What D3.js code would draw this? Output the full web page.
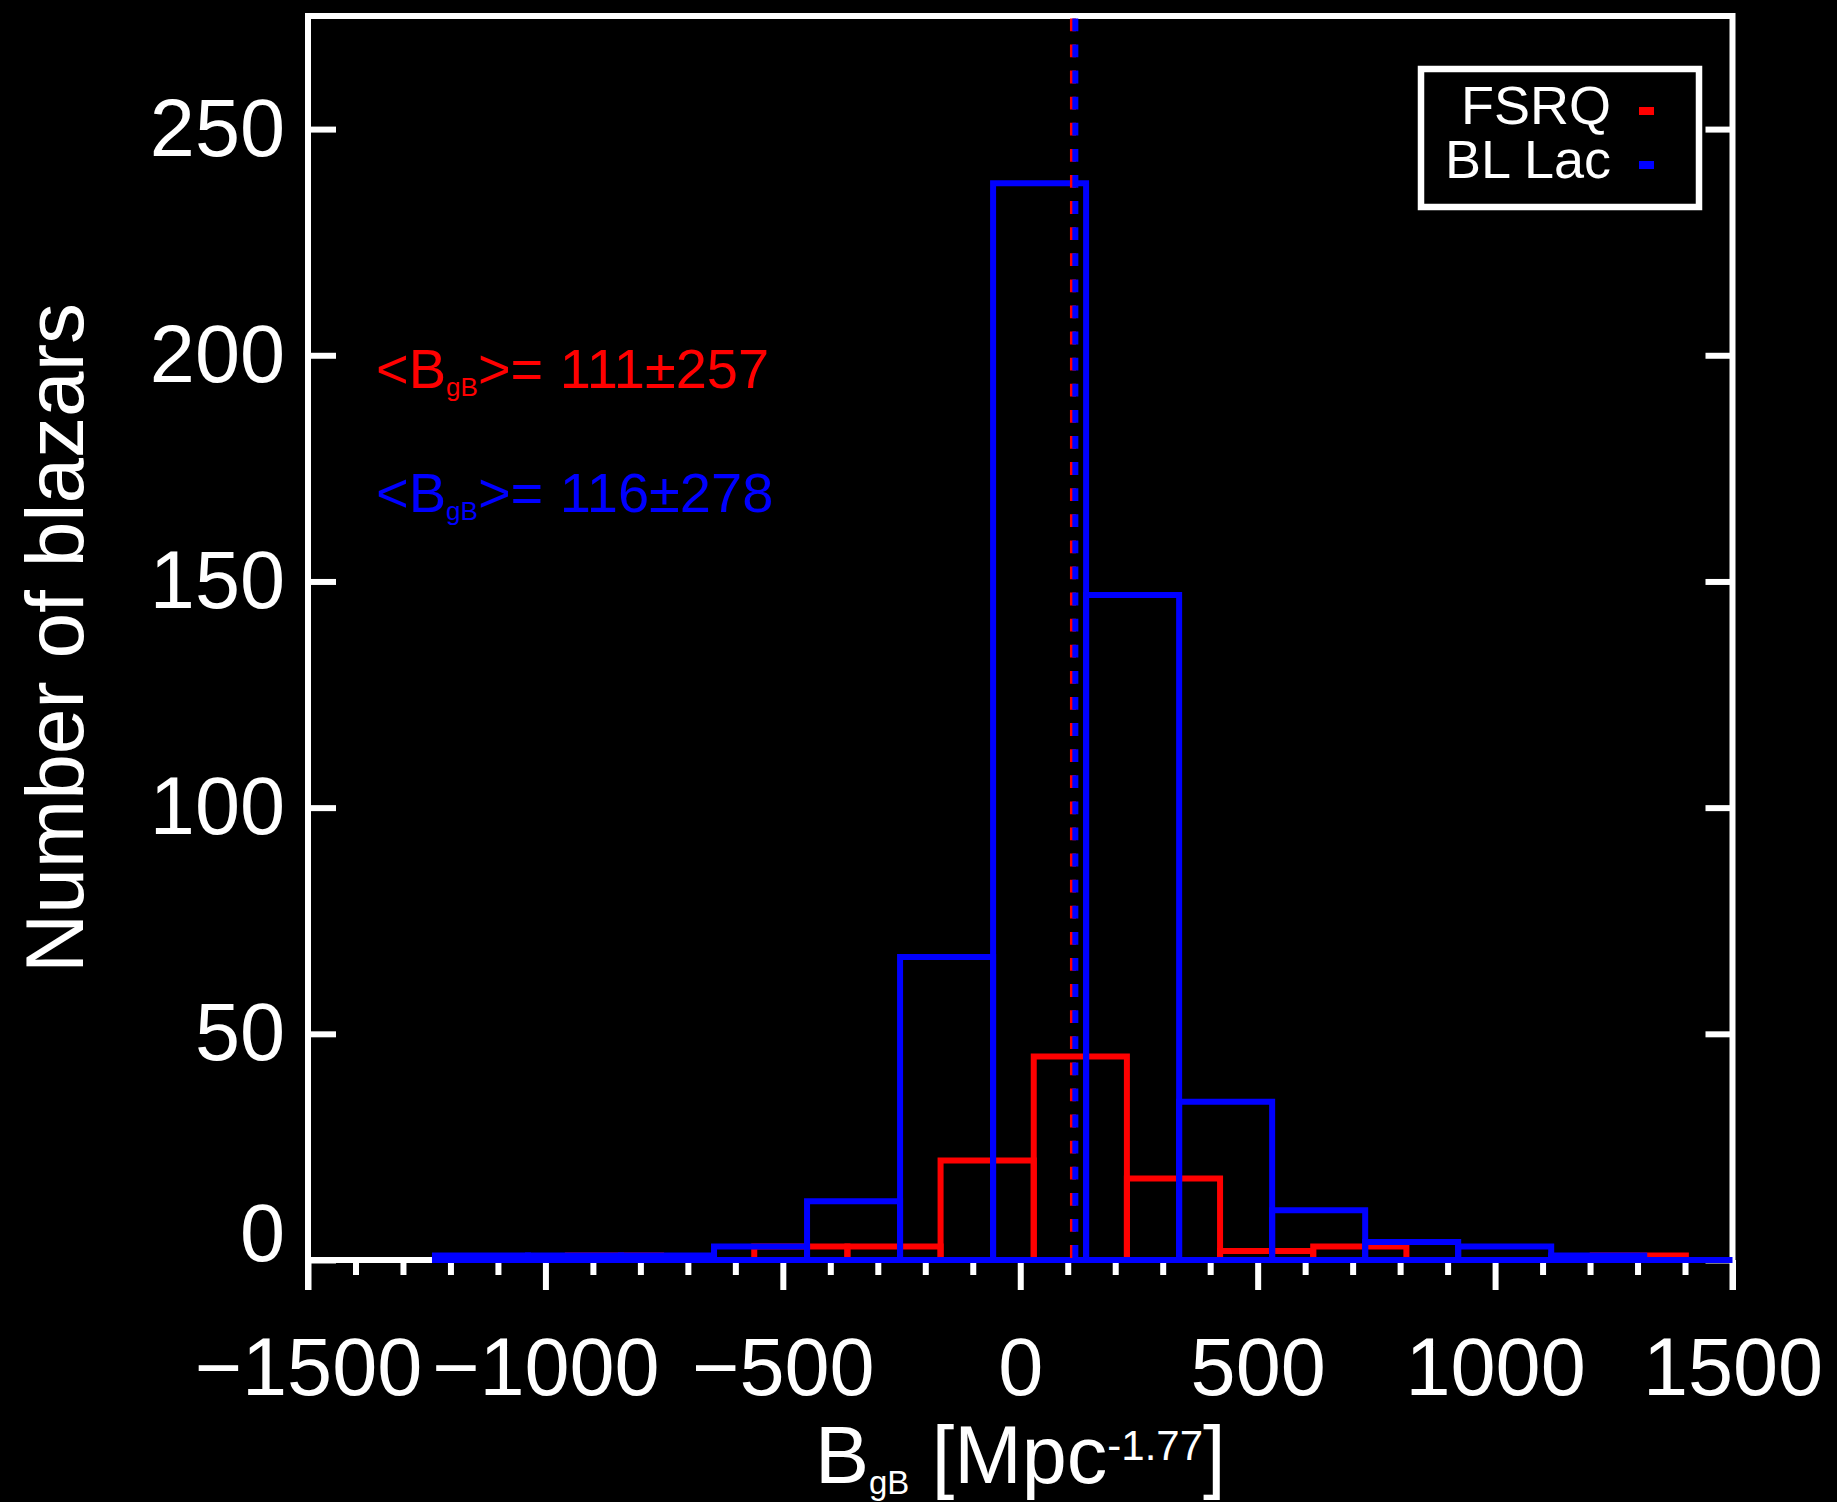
<!DOCTYPE html>
<html>
<head>
<meta charset="utf-8">
<script src="https://cdn.jsdelivr.net/npm/d3@7"></script>
<style>
  body { margin: 0; background: #000; }
</style>
</head>
<body>
<script>
// Bin edges and counts of the two histograms
const fsrqEdges = [-952.6, -756.4, -560.2, -364.0, -167.8, 28.4, 224.6, 420.8, 617.0, 813.2, 1009.4, 1205.6, 1401.8];
const fsrqCounts = [1, 0, 3, 3, 22, 45, 18, 2, 3, 0, 0, 1];
const bllacEdges = [-1232.6, -1036.7, -840.8, -644.9, -449.0, -253.1, -57.2, 138.7, 334.6, 530.5, 726.4, 922.3, 1118.2, 1314.1, 1510.0];
const bllacCounts = [1, 1, 1, 3, 13, 67, 238, 147, 35, 11, 4, 3, 1, 0];

// mean and spread of each class
const fsrqMean = 111, fsrqSigma = 257;
const bllacMean = 116, bllacSigma = 278;

const xMajorTicks = [-1500, -1000, -500, 0, 500, 1000, 1500];
const yTicks = [0, 50, 100, 150, 200, 250];
const legendLabels = ['FSRQ', 'BL Lac'];
const colors = { fsrq: '#ff0000', bllac: '#0000ff' };

const width = 1837, height = 1502;
const plotLeft = 308, plotRight = 1732.5, plotTop = 16, plotBottom = 1260;
const font = '"Liberation Sans", Arial, Helvetica, sans-serif';
const lw = 6;

const svg = d3.select('body').append('svg')
    .attr('width', width)
    .attr('height', height)
    .style('display', 'block')
    .attr('font-family', font);

svg.append('rect').attr('width', width).attr('height', height).attr('fill', '#000');

const x = d3.scaleLinear().domain([-1500, 1500]).range([plotLeft, plotRight]);
const y = d3.scaleLinear().domain([0, 275]).range([plotBottom, plotTop]);

function styleAxis(g) {
    g.select('.domain').remove();
    g.attr('font-family', font).attr('font-size', 81);
    g.selectAll('line').attr('stroke', '#fff').attr('stroke-width', lw);
    g.selectAll('text').attr('fill', '#fff');
}

// x axis: minor ticks every 100, labelled major ticks every 500
const xMinor = d3.range(-1500, 1501, 100).filter(v => v % 500 !== 0);
svg.append('g')
    .attr('transform', `translate(0,${y(0)})`)
    .call(d3.axisBottom(x).tickValues(xMinor).tickSize(15).tickFormat(''))
    .call(styleAxis);

svg.append('g')
    .attr('transform', `translate(0,${y(0)})`)
    .call(d3.axisBottom(x).tickValues(xMajorTicks).tickSize(30).tickFormat(d3.format('d')))
    .call(styleAxis)
    .call(g => g.selectAll('text').attr('y', 1395 - y(0)).attr('dy', 0));

// y axis, ticks pointing inwards on both sides
svg.append('g')
    .attr('transform', `translate(${plotLeft},0)`)
    .call(d3.axisLeft(y).tickValues(yTicks).tickSizeInner(-28).tickSizeOuter(0).tickPadding(23))
    .call(styleAxis)
    .call(g => g.selectAll('text').filter(d => d === 0).attr('dy', 0));

svg.append('g')
    .attr('transform', `translate(${plotRight},0)`)
    .call(d3.axisRight(y).tickValues(yTicks).tickSize(-27).tickFormat(''))
    .call(styleAxis);

// plot frame
const frame = d3.path();
frame.moveTo(plotLeft, 1290); frame.lineTo(plotLeft, plotTop - lw / 2);
frame.moveTo(plotRight, 1290); frame.lineTo(plotRight, plotTop - lw / 2);
frame.moveTo(plotLeft - lw / 2, plotTop); frame.lineTo(plotRight + lw / 2, plotTop);
frame.moveTo(plotLeft, y(0)); frame.lineTo(plotRight, y(0));
svg.append('path').attr('d', frame.toString())
    .attr('fill', 'none').attr('stroke', '#fff').attr('stroke-width', lw);

svg.append('clipPath').attr('id', 'plot-clip')
    .append('rect').attr('x', plotLeft).attr('y', 0).attr('width', plotRight - plotLeft).attr('height', height);

const plot = svg.append('g').attr('clip-path', 'url(#plot-clip)');

function drawHist(edges, counts, color) {
    const bars = counts.map((n, i) => ({ x0: edges[i], x1: edges[i + 1], n }));
    plot.append('g').selectAll('path')
        .data(bars)
        .join('path')
        .attr('d', d => `M${x(d.x0)},${y(0)}V${y(d.n)}H${x(d.x1)}V${y(0)}Z`)
        .attr('fill', 'none')
        .attr('stroke', color)
        .attr('stroke-width', lw)
        .attr('stroke-linejoin', 'miter');
}

drawHist(fsrqEdges, fsrqCounts, colors.fsrq);
drawHist(bllacEdges, bllacCounts, colors.bllac);

// dashed lines at the means
[[fsrqMean, colors.fsrq], [bllacMean, colors.bllac]].forEach(([m, c]) => {
    plot.append('line')
        .attr('x1', x(m)).attr('x2', x(m))
        .attr('y1', y(275)).attr('y2', y(0))
        .attr('stroke', c)
        .attr('stroke-width', lw)
        .attr('stroke-dasharray', '12.8,13.3')
        .attr('stroke-dashoffset', 23.7);
});

// mean annotations
function meanLabel(ypos, mean, sigma, color) {
    const t = svg.append('text')
        .attr('x', 376).attr('y', ypos)
        .attr('fill', color).attr('font-size', 56);
    t.append('tspan').text('<B');
    t.append('tspan').attr('font-size', 26).attr('dy', 8).text('gB');
    t.append('tspan').attr('dy', -8).text('>=');
    t.append('tspan').attr('dx', 1).text(` ${mean}±${sigma}`);
}
meanLabel(388, fsrqMean, fsrqSigma, colors.fsrq);
meanLabel(512, bllacMean, bllacSigma, colors.bllac);

// legend
const legend = svg.append('g');
legend.append('rect')
    .attr('x', 1421).attr('y', 69).attr('width', 278).attr('height', 138)
    .attr('fill', 'none').attr('stroke', '#fff').attr('stroke-width', 6.5);
[[legendLabels[0], colors.fsrq, 124], [legendLabels[1], colors.bllac, 178]].forEach(([lab, c, by]) => {
    legend.append('text')
        .attr('x', 1611).attr('y', by)
        .attr('text-anchor', 'end')
        .attr('fill', '#fff').attr('font-size', 54)
        .text(lab);
    legend.append('rect')
        .attr('x', 1639).attr('y', by - 17).attr('width', 15).attr('height', 8)
        .attr('fill', c);
});

// axis titles
svg.append('text')
    .attr('transform', `translate(83,${(plotTop + plotBottom) / 2}) rotate(-90)`)
    .attr('text-anchor', 'middle')
    .attr('fill', '#fff').attr('font-size', 82)
    .text('Number of blazars');

const xt = svg.append('text')
    .attr('x', (plotLeft + plotRight) / 2).attr('y', 1483)
    .attr('text-anchor', 'middle')
    .attr('fill', '#fff').attr('font-size', 81);
xt.append('tspan').text('B');
xt.append('tspan').attr('font-size', 33).attr('dy', 11).text('gB');
xt.append('tspan').attr('dy', -11).text(' [Mpc');
xt.append('tspan').attr('font-size', 42).attr('dy', -23).text('-1.77');
xt.append('tspan').attr('dy', 23).text(']');
</script>
</body>
</html>
